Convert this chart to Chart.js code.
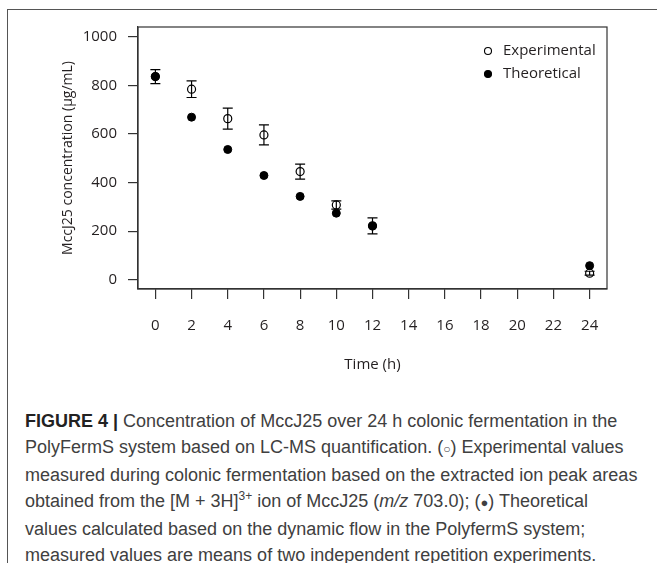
<!DOCTYPE html>
<html>
<head>
<meta charset="utf-8">
<title>MccJ25 concentration</title>
<script src="https://cdn.jsdelivr.net/npm/chart.js@4.4.1/dist/chart.umd.min.js"></script>
<style>
  html, body { margin: 0; padding: 0; background: #fff; }
  body { width: 657px; height: 563px; position: relative; overflow: hidden; }
  #frame {
    position: absolute; left: 7px; top: 9px; right: -10px; bottom: -10px;
    border-left: 1.5px solid #555; border-top: 1.5px solid #555;
  }
  #chart { position: absolute; left: 0; top: 0; }
  #caption {
    position: absolute; left: 25px; top: 408px; width: 630px;
    font-family: "Liberation Sans", Arial, sans-serif; font-size: 18px; line-height: 26px;
    color: #404040; white-space: nowrap;
  }
  #caption b { color: #222; }
  #caption sup { font-size: 12px; line-height: 0; vertical-align: 7px; }
</style>
</head>
<body>
<div id="frame"></div>
<canvas id="chart" width="657" height="400"></canvas>
<div id="caption">
  <b>FIGURE 4 |</b> Concentration of MccJ25 over 24 h colonic fermentation in the<br>
  PolyFermS system based on LC-MS quantification. (<span style="font-size:12px">○</span>) Experimental values<br>
  measured during colonic fermentation based on the extracted ion peak areas<br>
  obtained from the [M + 3H]<sup>3+</sup> ion of MccJ25 (<i>m/z</i> 703.0); (<span style="font-size:13px">●</span>) Theoretical<br>
  values calculated based on the dynamic flow in the PolyfermS system;<br>
  measured values are means of two independent repetition experiments.
</div>
<script>
// --- datos ---
const times = [0, 2, 4, 6, 8, 10, 12, 24];
const experimental = [836, 784, 663, 596, 445, 308, 222, 27];
const experimentalError = [29, 34, 43, 41, 31, 17, 33, 8];
const theoretical = [836, 669, 536, 429, 343, 274, 221, 58];

const xTicks = [0, 2, 4, 6, 8, 10, 12, 14, 16, 18, 20, 22, 24];
const yTicks = [0, 200, 400, 600, 800, 1000];

const ink = '#231f20';
const axisFont = { family: '"Open Sans", sans-serif', size: 15 };

// error bars under the points
const errorBars = {
    id: 'errorBars',
    beforeDatasetsDraw(chart) {
        const { ctx, scales: { x, y } } = chart;
        ctx.save();
        ctx.strokeStyle = '#000';
        ctx.lineWidth = 1.2;
        times.forEach((t, i) => {
            const px = x.getPixelForValue(t);
            const top = y.getPixelForValue(experimental[i] + experimentalError[i]);
            const bot = y.getPixelForValue(experimental[i] - experimentalError[i]);
            ctx.beginPath();
            ctx.moveTo(px, top); ctx.lineTo(px, bot);
            ctx.moveTo(px - 5, top); ctx.lineTo(px + 5, top);
            ctx.moveTo(px - 5, bot); ctx.lineTo(px + 5, bot);
            ctx.stroke();
        });
        ctx.restore();
    }
};

// box around plot + legend inside
const boxAndLegend = {
    id: 'boxAndLegend',
    afterDraw(chart) {
        const { ctx, chartArea: a } = chart;
        ctx.save();
        ctx.strokeStyle = '#333';
        ctx.lineWidth = 1.2;
        ctx.strokeRect(a.left, a.top, a.right - a.left, a.bottom - a.top);

        ctx.font = '15px "Open Sans", sans-serif';
        ctx.textBaseline = 'middle';
        ctx.fillStyle = ink;
        chart.data.datasets.forEach((ds, i) => {
            const ly = a.top + 24 + i * 23;
            const lx = a.right - 119;
            ctx.beginPath();
            ctx.arc(lx, ly, 3.5, 0, Math.PI * 2);
            ctx.lineWidth = 1.1;
            ctx.strokeStyle = '#000';
            if (ds.backgroundColor !== 'rgba(0,0,0,0)') { ctx.fillStyle = '#000'; ctx.fill(); }
            ctx.stroke();
            ctx.fillStyle = ink;
            ctx.fillText(ds.label, lx + 15, ly);
        });
        ctx.restore();
    }
};

new Chart(document.getElementById('chart'), {
    type: 'scatter',
    data: {
        datasets: [
            {
                label: 'Experimental',
                data: times.map((t, i) => ({ x: t, y: experimental[i] })),
                backgroundColor: 'rgba(0,0,0,0)',
                borderColor: '#000',
                pointRadius: 4,
                pointBorderWidth: 1.2,
                order: 2
            },
            {
                label: 'Theoretical',
                data: times.map((t, i) => ({ x: t, y: theoretical[i] })),
                backgroundColor: '#000',
                borderColor: '#000',
                pointRadius: 4,
                pointBorderWidth: 1,
                order: 1
            }
        ]
    },
    options: {
        responsive: false,
        animation: false,
        devicePixelRatio: 1,
        layout: { padding: { left: 0, right: 50, top: 27, bottom: 0 } },
        plugins: { legend: { display: false }, tooltip: { enabled: false } },
        scales: {
            x: {
                type: 'linear',
                min: -0.96,
                max: 24.96,
                afterBuildTicks: s => { s.ticks = xTicks.map(v => ({ value: v })); },
                afterFit: s => { s.height = 111; },
                grid: { drawOnChartArea: false, drawTicks: true, tickLength: 10, color: '#333', lineWidth: 1.2 },
                border: { display: true, color: '#333', width: 1.2 },
                ticks: { color: ink, font: axisFont, padding: 18, maxRotation: 0, autoSkip: false, callback: v => String(v) },
                title: { display: true, text: 'Time (h)', color: ink, font: axisFont, padding: { top: 0, bottom: 26 } }
            },
            y: {
                min: -38,
                max: 1040,
                afterBuildTicks: s => { s.ticks = yTicks.map(v => ({ value: v })); },
                afterFit: s => { s.width = 138; },
                grid: { drawOnChartArea: false, drawTicks: true, tickLength: 10, color: '#333', lineWidth: 1.2 },
                border: { display: true, color: '#333', width: 1.2 },
                ticks: { color: ink, font: axisFont, padding: 11, callback: v => String(v) },
                title: { display: true, text: 'MccJ25 concentration (µg/mL)', color: ink, font: { family: '"Open Sans", sans-serif', size: 14 }, padding: { top: 60, bottom: 0 } }
            }
        }
    },
    plugins: [errorBars, boxAndLegend]
});
</script>
</body>
</html>
